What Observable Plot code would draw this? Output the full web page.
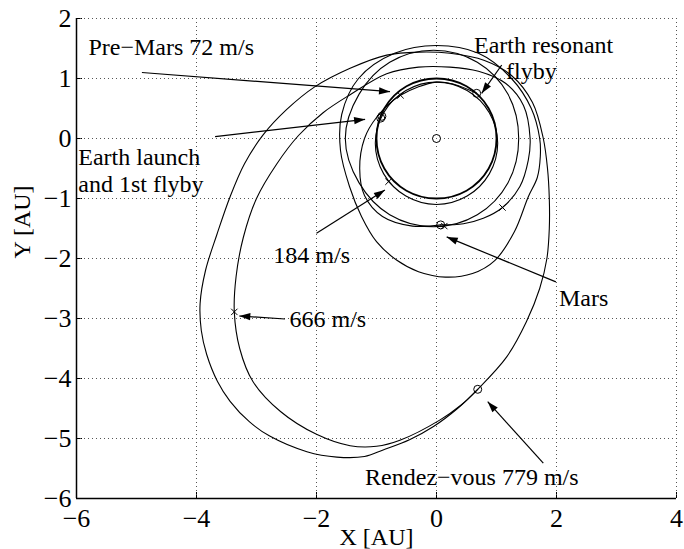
<!DOCTYPE html>
<html><head><meta charset="utf-8">
<script src="https://cdn.jsdelivr.net/npm/d3@7"></script>
<script src="https://cdn.jsdelivr.net/npm/@observablehq/plot@0.6"></script>
<style>body{margin:0;background:#fff}</style>
</head><body><div id="chart"></div>
<script>
const xTicks = [-6,-4,-2,0,2,4];
const yTicks = [-6,-5,-4,-3,-2,-1,0,1,2];

// closed orbits (AU)
const earthOrbit = [[1,0],[0.87,0.5],[0.5,0.87],[0,1],[-0.5,0.87],[-0.87,0.5],[-1,0],[-0.87,-0.5],[-0.5,-0.87],[0,-1],[0.5,-0.87],[0.87,-0.5]];
const resonantOrbit = [[1.02,-0.08],[0.88,0.43],[0.51,0.80],[0,0.94],[-0.51,0.80],[-0.88,0.43],[-1.02,-0.08],[-0.88,-0.59],[-0.51,-0.96],[0,-1.10],[0.51,-0.96],[0.88,-0.59]];
const marsOrbit = [[1.37,0.0],[1.19,0.74],[0.68,1.27],[-0.05,1.47],[-0.78,1.27],[-1.29,0.74],[-1.52,0.0],[-1.29,-0.74],[-0.78,-1.27],[-0.05,-1.47],[0.68,-1.27],[1.19,-0.74]];
const transferOrbit = [[1.72,0.0],[1.73,-0.30],[1.68,-0.65],[1.53,-0.97],[1.30,-1.55],[0.975,-2.03],[0.6,-2.25],[0.15,-2.31],[-0.3,-2.22],[-0.66,-2.03],[-1.0,-1.72],[-1.25,-1.3],[-1.45,-0.8],[-1.6,-0.2],[-1.58,0.4],[-1.3,1.0],[-0.7,1.42],[0.0,1.55],[0.7,1.42],[1.25,1.0],[1.58,0.5]];
const targetOrbit = [[-3.94,-2.75],[-3.92,-3.2],[-3.83,-3.6],[-3.65,-4.05],[-3.44,-4.38],[-3.12,-4.72],[-2.78,-4.96],[-2.16,-5.22],[-1.66,-5.31],[-1.2,-5.3],[-0.89,-5.19],[-0.45,-5.02],[-0.05,-4.80],[0.35,-4.5],[0.687,-4.18],[1.17,-3.64],[1.5,-3.05],[1.72,-2.5],[1.84,-2.0],[1.88,-1.5],[1.88,-1.0],[1.85,-0.5],[1.78,0.0],[1.6,0.6],[1.25,1.05],[0.8,1.3],[0.225,1.42],[-0.3,1.44],[-0.83,1.39],[-1.44,1.17],[-2.03,0.86],[-2.5,0.48],[-2.89,0.06],[-3.2,-0.42],[-3.44,-0.97],[-3.66,-1.6],[-3.85,-2.2]];
// open arcs
const preMarsArc = [[0.67,0.753],[0.3,0.9],[0.0,0.94],[-0.6,0.72],[-1.0,0.35],[-1.2,0.0],[-1.28,-0.5],[-1.2,-0.95],[-0.9,-1.3],[-0.4,-1.46],[0.07,-1.44]];
const finalArc = [[0.07,-1.44],[0.45,-1.42],[0.78,-1.33],[1.10,-1.15],[1.39,-0.80],[1.53,-0.36],[1.56,0.0],[1.45,0.55],[1.15,0.92],[0.7,1.12],[0.225,1.19],[-0.3,1.19],[-0.83,1.08],[-1.44,0.73],[-1.89,0.43],[-2.3,0.05],[-2.66,-0.42],[-3.0,-1.0],[-3.22,-1.65],[-3.34,-2.3],[-3.37,-2.89],[-3.28,-3.5],[-3.06,-4.05],[-2.6,-4.55],[-2.0,-4.93],[-1.44,-5.12],[-1.0,-5.13],[-0.61,-5.03],[0.06,-4.69],[0.4,-4.45],[0.687,-4.18]];

// markers
const circleX = [0,-0.93,-0.91,0.67,0.07,0.687];
const circleY = [0,0.34,0.37,0.753,-1.44,-4.18];
const crossX = [-0.6,-0.80,1.10,0.13,-3.37];
const crossY = [0.72,-0.72,-1.15,-1.46,-2.89];

// annotations
const labelText = ["Pre\u2212Mars 72 m/s","Earth launch","and 1st flyby","Earth resonant","flyby","184 m/s","Mars","666 m/s","Rendez\u2212vous 779 m/s"];
const labelX = [-5.80,-5.97,-5.97,0.625,1.158,-2.72,2.04,-2.45,-1.19];
const labelY = [1.39,-0.44,-0.89,1.425,0.99,-2.07,-2.795,-3.14,-5.775];
const arrowX1 = [-4.91,-3.69,1.087,-2.0,1.99,-2.525,1.78];
const arrowY1 = [1.10,0.03,1.225,-1.58,-2.39,-3.008,-5.41];
const arrowX2 = [-0.775,-1.19,0.753,-0.86,0.17,-3.287,0.853];
const arrowY2 = [0.78,0.32,0.753,-0.86,-1.64,-2.958,-4.387];

const closedOrbits = [resonantOrbit, marsOrbit, transferOrbit, targetOrbit];
const closedRows = closedOrbits.flatMap((o,i)=>o.map(p=>({x:p[0],y:p[1],k:i})));
const earthRows = earthOrbit.map(p=>({x:p[0],y:p[1]}));
const arcRows = [preMarsArc, finalArc].flatMap((o,i)=>o.map(p=>({x:p[0],y:p[1],k:i})));
const circles = circleX.map((x,i)=>({x,y:circleY[i]}));
const crosses = crossX.map((x,i)=>({x,y:crossY[i]}));
const labels = labelText.map((t,i)=>({t,x:labelX[i],y:labelY[i]}));
const arrows = arrowX1.map((x1,i)=>({x1,y1:arrowY1[i],x2:arrowX2[i],y2:arrowY2[i],
  a:Math.atan2(arrowX2[i]-x1, arrowY2[i]-arrowY1[i])*180/Math.PI}));
const arrowHead = {draw(ctx){ctx.moveTo(0,0);ctx.lineTo(-3.6,11);ctx.lineTo(3.6,11);ctx.closePath();}};

const font = "Liberation Serif, Times New Roman, serif";
const chart = Plot.plot({
  width:684, height:549,
  marginLeft:76, marginRight:8, marginTop:18, marginBottom:51,
  style:{fontFamily:font, fontSize:"26px", color:"#000", background:"#fff"},
  x:{domain:[-6,4], ticks:xTicks, tickSize:-6, tickPadding:16, label:null},
  y:{domain:[-6,2], ticks:yTicks, tickSize:-6, tickPadding:11, label:null},
  marks:[
    Plot.ruleX(xTicks,{stroke:"#555",strokeDasharray:"1,3",strokeWidth:1}),
    Plot.ruleY(yTicks,{stroke:"#555",strokeDasharray:"1,3",strokeWidth:1}),
    Plot.ruleX([xTicks[0]],{stroke:"#000",strokeWidth:1.5}),
    Plot.ruleY([yTicks[0]],{stroke:"#000",strokeWidth:1.5}),
    Plot.line(earthRows,{x:"x",y:"y",curve:"catmull-rom-closed",stroke:"#000",strokeWidth:1.8}),
    Plot.line(closedRows,{x:"x",y:"y",z:"k",curve:"catmull-rom-closed",stroke:"#000",strokeWidth:1.1}),
    Plot.line(arcRows,{x:"x",y:"y",z:"k",curve:"catmull-rom",stroke:"#000",strokeWidth:1.1}),
    Plot.dot(circles,{x:"x",y:"y",r:4,stroke:"#000",fill:"none",strokeWidth:1}),
    Plot.dot(crosses,{x:"x",y:"y",r:3,symbol:"times",stroke:"#000",strokeWidth:1}),
    Plot.link(arrows,{x1:"x1",y1:"y1",x2:"x2",y2:"y2",stroke:"#000",strokeWidth:1.2}),
    Plot.dot(arrows,{x:"x2",y:"y2",symbol:arrowHead,rotate:"a",fill:"#000",stroke:"none"}),
    Plot.text(labels,{x:"x",y:"y",text:"t",textAnchor:"start",lineAnchor:"bottom",fontSize:24,fill:"#000"}),
    Plot.text(["X [AU]"],{frameAnchor:"bottom",dy:39,fontSize:24,lineAnchor:"middle",fill:"#000"}),
    Plot.text(["Y [AU]"],{frameAnchor:"left",dx:-54,rotate:-90,fontSize:24,lineAnchor:"middle",fill:"#000"})
  ]
});
document.getElementById("chart").appendChild(chart);
</script></body></html>
